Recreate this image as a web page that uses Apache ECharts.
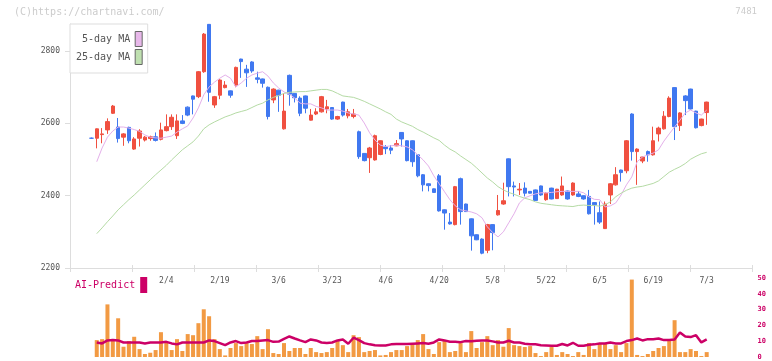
<!DOCTYPE html>
<html>
<head>
<meta charset="utf-8">
<style>
  html, body { margin: 0; padding: 0; background: #fff; }
  #chart { width: 772px; height: 361px; }
</style>
<script src="https://cdn.jsdelivr.net/npm/echarts@6.0.0/dist/echarts.min.js"></script>
</head>
<body>
<div id="chart"></div>
<script>
"use strict";

// trading days shown (2020)
const dates = [
  "1/15","1/16","1/17","1/20","1/21","1/22","1/23","1/24","1/27","1/28","1/29","1/30","1/31",
  "2/3","2/4","2/5","2/6","2/7","2/10","2/12","2/13","2/14","2/17","2/18","2/19","2/20","2/21","2/25","2/26","2/27","2/28",
  "3/2","3/3","3/4","3/5","3/6","3/9","3/10","3/11","3/12","3/13","3/16","3/17","3/18","3/19","3/23","3/24","3/25","3/26","3/27","3/30","3/31",
  "4/1","4/2","4/3","4/6","4/7","4/8","4/9","4/10","4/13","4/14","4/15","4/16","4/17","4/20","4/21","4/22","4/23","4/24","4/27","4/28","4/30",
  "5/1","5/7","5/8","5/11","5/12","5/13","5/14","5/15","5/18","5/19","5/20","5/21","5/22","5/25","5/26","5/27","5/28","5/29",
  "6/1","6/2","6/3","6/4","6/5","6/8","6/9","6/10","6/11","6/12","6/15","6/16","6/17","6/18","6/19","6/22","6/23","6/24","6/25","6/26","6/29","6/30",
  "7/1","7/2","7/3"
];
const shownDates = ["2/4","2/19","3/6","3/23","4/6","4/20","5/8","5/22","6/5","6/19","7/3"];
const priceTicks = [2200, 2400, 2600, 2800];

const opens = [
  2559,2559,2569,2582,2628,2590,2562,2589,2529,2559,
  2554,2558,2563,2556,2580,2591,2566,2607,2645,2676,
  2674,2743,2874,2651,2678,2699,2690,2706,2778,2750,
  2770,2726,2723,2700,2665,2692,2585,2733,2683,2670,
  2676,2609,2626,2632,2640,2644,2612,2659,2621,2619,
  2577,2517,2505,2499,2514,2535,2532,2538,2575,2552,
  2552,2513,2458,2433,2419,2455,2361,2327,2320,2447,
  2377,2336,2292,2280,2249,2320,2347,2377,2502,2427,
  2416,2421,2412,2416,2427,2389,2421,2392,2402,2413,
  2402,2405,2400,2398,2381,2353,2309,2402,2430,2471,
  2469,2626,2522,2496,2522,2513,2571,2585,2619,2699,
  2594,2676,2695,2634,2594,2630
];
const closes = [
  2559,2585,2571,2605,2648,2558,2571,2552,2557,2579,
  2562,2563,2553,2582,2591,2617,2607,2600,2623,2667,
  2743,2847,2686,2674,2720,2706,2678,2755,2771,2740,
  2745,2722,2711,2619,2695,2678,2634,2681,2671,2628,
  2642,2623,2632,2674,2646,2612,2619,2623,2632,2626,
  2508,2497,2532,2566,2552,2530,2526,2544,2557,2497,
  2494,2455,2430,2428,2409,2358,2352,2322,2425,2356,
  2356,2289,2278,2241,2320,2298,2359,2386,2425,2424,
  2418,2407,2407,2387,2402,2407,2391,2418,2427,2391,
  2435,2398,2391,2350,2375,2327,2377,2433,2458,2464,
  2552,2522,2529,2507,2513,2552,2587,2620,2670,2591,
  2629,2663,2640,2588,2612,2659
];
const lows = [
  2557,2531,2545,2571,2626,2547,2538,2545,2527,2536,
  2550,2552,2550,2553,2578,2582,2557,2598,2620,2625,
  2670,2740,2660,2643,2667,2697,2671,2700,2726,2701,
  2740,2711,2699,2611,2656,2632,2583,2649,2658,2620,
  2628,2608,2623,2630,2628,2610,2610,2619,2614,2614,
  2502,2495,2463,2497,2512,2515,2515,2537,2536,2495,
  2480,2451,2412,2412,2408,2356,2306,2320,2318,2320,
  2355,2248,2277,2238,2241,2249,2345,2375,2398,2398,
  2402,2398,2406,2386,2400,2386,2390,2391,2400,2389,
  2400,2396,2389,2348,2320,2322,2308,2377,2428,2439,
  2462,2497,2430,2490,2494,2511,2550,2583,2617,2554,
  2579,2623,2638,2586,2592,2596
];
const highs = [
  2561,2586,2587,2614,2651,2615,2573,2591,2562,2584,
  2565,2566,2575,2602,2625,2625,2625,2623,2647,2677,
  2745,2850,2875,2676,2722,2717,2691,2757,2779,2762,
  2772,2743,2724,2702,2697,2693,2683,2735,2684,2675,
  2677,2640,2642,2676,2665,2645,2621,2660,2640,2640,
  2580,2518,2535,2569,2553,2540,2540,2554,2576,2553,
  2553,2514,2460,2434,2420,2460,2362,2352,2427,2450,
  2378,2337,2293,2282,2322,2321,2402,2436,2503,2439,
  2435,2437,2413,2417,2428,2410,2422,2419,2453,2414,
  2437,2413,2401,2416,2382,2384,2384,2435,2479,2472,
  2554,2628,2531,2508,2525,2591,2591,2634,2675,2700,
  2631,2678,2696,2635,2613,2660
];
const ma5 = [
  null,2494,2532,2562,2579,2590,2590,2587,2583,2578,
  2568,2562,2560,2559,2562,2565,2576,2585,2593,2615,
  2643,2679,2701,2714,2725,2734,2725,2701,2712,2725,
  2734,2739,2743,2731,2712,2698,2687,2681,2670,2656,
  2654,2654,2647,2643,2637,2637,2637,2634,2629,2626,
  2623,2601,2574,2554,2540,2536,2538,2540,2538,2535,
  2527,2513,2499,2482,2455,2433,2411,2389,2372,2361,
  2358,2355,2350,2339,2314,2298,2286,2300,2325,2350,
  2380,2394,2400,2405,2408,2408,2409,2411,2412,2412,
  2412,2412,2408,2397,2390,2389,2369,2372,2380,2402,
  2430,2452,2494,2507,2513,2518,2527,2551,2571,2590,
  2609,2629,2637,2629,2623,2637
];
const ma25 = [
  null,2295,2311,2328,2344,2361,2375,2389,2402,2416,
  2430,2444,2458,2471,2484,2499,2513,2527,2538,2549,
  2565,2585,2596,2604,2611,2618,2623,2629,2633,2637,
  2644,2651,2656,2665,2672,2677,2683,2686,2687,2688,
  2688,2690,2692,2694,2694,2690,2683,2676,2674,2672,
  2667,2661,2654,2647,2640,2632,2625,2612,2604,2598,
  2592,2583,2576,2568,2560,2553,2540,2529,2521,2510,
  2500,2490,2477,2463,2449,2438,2425,2416,2409,2404,
  2398,2393,2389,2383,2379,2377,2375,2373,2372,2371,
  2370,2373,2374,2373,2373,2371,2375,2383,2397,2407,
  2415,2421,2424,2426,2430,2434,2441,2453,2465,2473,
  2480,2489,2501,2509,2516,2520
];
const volume = [
  null,10.7,11.3,33.3,10.1,24.5,6.5,10.1,12.8,5.0,
  1.9,2.7,4.4,15.7,9.2,4.4,11.3,3.8,14.5,13.8,
  21.4,30.2,25.8,11.3,5.0,1.0,5.7,8.8,6.9,8.8,
  8.2,13.2,5.0,17.6,2.5,1.9,8.8,3.8,5.7,5.7,
  1.9,5.7,3.1,2.5,3.1,5.7,10.1,7.5,3.1,13.8,
  12.6,3.1,3.8,4.4,1.0,1.3,3.1,4.4,4.4,6.9,
  8.8,10.7,14.5,5.0,1.9,9.4,10.7,3.1,3.8,8.8,
  3.1,16.4,5.7,9.4,13.2,7.5,10.7,6.5,18.3,7.5,
  6.9,6.3,6.9,2.5,0.6,3.1,6.3,1.3,3.1,1.9,
  0.6,3.1,1.3,8.8,5.0,8.2,8.8,5.0,7.5,3.1,
  8.8,49,1.3,0.6,1.9,3.8,5.7,6.9,10.1,23.3,
  3.1,3.1,5.0,3.8,0.6,3.1
];
const aiPredict = [
  null,9.2,8.6,10.5,10.7,10.5,9.2,9.2,9.2,9.2,
  8.6,9.2,9.2,9.2,9.6,8.6,8.0,9.2,9.2,9.2,
  9.2,9.2,10.5,10.1,8.8,7.5,9.2,10.1,8.8,9.2,
  10.1,10.1,10.5,10.7,9.6,9.8,11.5,13.0,11.7,10.5,
  9.4,11.1,10.5,9.2,8.8,9.2,10.5,11.1,8.4,12.2,
  10.7,8.8,8.0,7.5,7.3,7.3,8.0,8.2,8.2,8.2,
  8.4,8.6,8.8,8.4,9.2,11.1,10.5,9.6,9.6,9.4,
  10.1,9.9,10.3,10.5,10.5,9.9,9.2,9.2,10.3,9.2,
  9.2,8.4,8.0,8.0,7.5,7.3,7.1,7.1,8.2,7.3,
  9.0,7.1,7.1,7.8,8.0,8.6,8.6,9.2,8.6,8.6,
  10.1,10.7,11.7,10.5,11.3,11.3,11.7,10.7,10.7,11.1,
  15.5,13.0,12.6,13.8,9.2,11.1
];

// empty slots on the axis before the first and after the last trading day
const padL = 4, padR = 8;
const FONT = '"DejaVu Sans Mono", monospace';
const UP = "#f05040", DOWN = "#4078f0";
const FRAME = "#ddd";

const cats = [...Array(padL).fill(""), ...dates, ...Array(padR).fill("")];
const pad = (arr) => [...Array(padL).fill("-"), ...arr.map((v) => (v === null ? "-" : v)), ...Array(padR).fill("-")];
const empty = ["-", "-", "-", "-"];
const candleData = [
  ...Array(padL).fill(empty),
  ...dates.map((d, i) => [opens[i], closes[i], lows[i], highs[i]]),
  ...Array(padR).fill(empty),
];
const labelSet = new Set(shownDates);

const chart = echarts.init(document.getElementById("chart"));
chart.setOption({
  animation: false,
  backgroundColor: "#fff",
  graphic: [
    { type: "text", left: 14, top: 7, style: { text: "(C)https://chartnavi.com/", fill: "#ccc", font: "10px " + FONT } },
    { type: "text", right: 15, top: 7, style: { text: "7481", fill: "#ccc", font: "9px " + FONT } },
  ],
  legend: [
    {
      left: 70, top: 24, orient: "vertical", align: "right", icon: "rect",
      itemWidth: 7, itemHeight: 15, itemGap: 2, padding: [7, 5, 8, 6],
      borderColor: FRAME, borderWidth: 1, backgroundColor: "#fff", selectedMode: false,
      textStyle: { color: "#555", fontFamily: FONT, fontSize: 10 },
      data: [
        { name: "5-day MA", itemStyle: { color: "#e8b8ea", borderColor: "#666", borderWidth: 1 } },
        { name: "25-day MA", itemStyle: { color: "#bfe0b0", borderColor: "#666", borderWidth: 1 } },
      ],
    },
    {
      left: 75, top: 277, align: "right", icon: "rect", itemWidth: 7, itemHeight: 16,
      padding: 0, selectedMode: false,
      textStyle: { color: "#cc0066", fontFamily: FONT, fontSize: 10 },
      data: [{ name: "AI-Predict", itemStyle: { color: "#cc0066", borderWidth: 0 } }],
    },
  ],
  grid: [
    { left: 70, right: 20, top: 24, height: 244 },
    { left: 70, right: 22.5, top: 24, height: 244 },
    { left: 70, right: 22.5, top: 278, height: 79 },
  ],
  xAxis: [
    {
      gridIndex: 0, type: "value", position: "bottom", min: 0, max: 11, interval: 1,
      axisLine: { lineStyle: { color: FRAME } },
      axisTick: { length: 4, lineStyle: { color: FRAME } },
      axisLabel: { show: false }, splitLine: { show: false },
    },
    {
      gridIndex: 1, type: "category", position: "bottom", data: cats, boundaryGap: false,
      axisLine: { show: false }, axisTick: { show: false },
      axisLabel: { interval: (i, v) => labelSet.has(v), color: "#555", fontFamily: FONT, fontSize: 8, margin: 9 },
    },
    { gridIndex: 2, type: "category", data: cats, boundaryGap: false, show: false },
    {
      // inner half of the date ticks
      gridIndex: 0, type: "value", position: "bottom", offset: 0, min: 0, max: 11, interval: 1,
      axisLine: { show: false },
      axisTick: { inside: true, length: 3, lineStyle: { color: FRAME } },
      axisLabel: { show: false }, splitLine: { show: false },
    },
  ],
  yAxis: [
    {
      gridIndex: 0, type: "value", min: 2200, max: 2875, interval: 200,
      axisLine: { show: true, lineStyle: { color: FRAME } },
      axisTick: { show: true, length: 5, customValues: priceTicks, lineStyle: { color: FRAME } },
      axisLabel: { customValues: priceTicks, formatter: (v) => String(v), color: "#555", fontFamily: FONT, fontSize: 8, margin: 10 },
      splitLine: { show: false },
    },
    { gridIndex: 1, type: "value", min: 2200, max: 2875, show: false },
    {
      gridIndex: 2, type: "value", min: 0, max: 50, interval: 10, position: "right",
      axisLine: { show: false }, axisTick: { show: false }, splitLine: { show: false },
      axisLabel: { color: "#cc0066", fontFamily: FONT, fontSize: 7, fontWeight: "bold", margin: 8 },
    },
  ],
  series: [
    {
      type: "candlestick", xAxisIndex: 1, yAxisIndex: 1, barWidth: 4, data: candleData,
      itemStyle: { color: UP, color0: DOWN, borderColor: UP, borderColor0: DOWN, borderWidth: 1 },
    },
    {
      name: "5-day MA", type: "line", xAxisIndex: 1, yAxisIndex: 1, data: pad(ma5),
      showSymbol: false, lineStyle: { width: 1, color: "#e4b0ea" }, itemStyle: { color: "#e4b0ea" },
    },
    {
      name: "25-day MA", type: "line", xAxisIndex: 1, yAxisIndex: 1, data: pad(ma25),
      showSymbol: false, lineStyle: { width: 1, color: "#b5dba5" }, itemStyle: { color: "#b5dba5" },
    },
    {
      name: "Volume", type: "bar", xAxisIndex: 2, yAxisIndex: 2, data: pad(volume),
      barWidth: 4, itemStyle: { color: "#f29a43" },
    },
    {
      name: "AI-Predict", type: "line", xAxisIndex: 2, yAxisIndex: 2, data: pad(aiPredict),
      showSymbol: false, lineStyle: { width: 2.5, color: "#cc0066" }, itemStyle: { color: "#cc0066" },
    },
  ],
});
</script>
</body>
</html>
